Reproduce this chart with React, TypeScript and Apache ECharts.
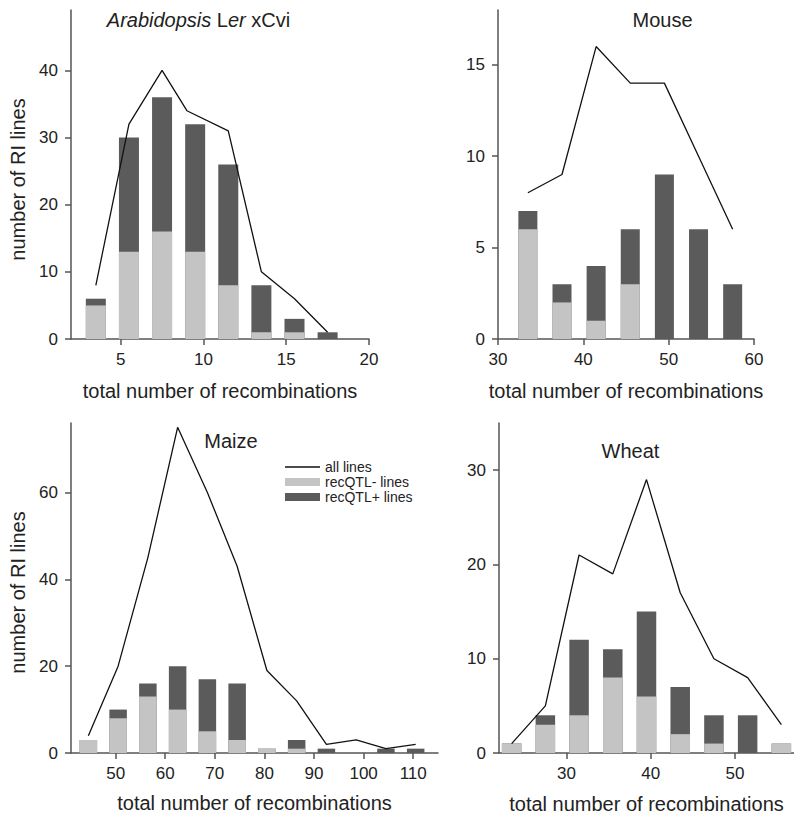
import React, { useEffect, useRef } from "react";
import * as echarts from "echarts";

// ---- Data ----
const arabBins = [3.5, 5.5, 7.5, 9.5, 11.5, 13.5, 15.5, 17.5];
const arabMinus = [5, 13, 16, 13, 8, 1, 1, 0];
const arabPlus = [1, 17, 20, 19, 18, 7, 2, 1];
const arabLineX = [3.5, 5.5, 7.5, 9, 11.5, 13.5, 15.5, 17.5];
const arabAll = [8, 32, 40, 34, 31, 10, 6, 1];

const mouseBins = [33.5, 37.5, 41.5, 45.5, 49.5, 53.5, 57.5];
const mouseMinus = [6, 2, 1, 3, 0, 0, 0];
const mousePlus = [1, 1, 3, 3, 9, 6, 3];
const mouseLineX = [33.5, 37.5, 41.5, 45.5, 49.5, 53.5, 57.5];
const mouseAll = [8, 9, 16, 14, 14, 10, 6];

const maizeBins = [44.5, 50.5, 56.5, 62.5, 68.5, 74.5, 80.5, 86.5, 92.5, 98.5, 104.5, 110.5];
const maizeMinus = [3, 8, 13, 10, 5, 3, 1, 1, 0, 0, 0, 0];
const maizePlus = [0, 2, 3, 10, 12, 13, 0, 2, 1, 0, 1, 1];
const maizeLineX = [44.5, 50.5, 56.5, 62.5, 68.5, 74.5, 80.5, 86.5, 92.5, 98.5, 104.5, 110.5];
const maizeAll = [4, 20, 45, 75, 60, 43, 19, 12, 2, 3, 1, 2];

const wheatBins = [23.5, 27.5, 31.5, 35.5, 39.5, 43.5, 47.5, 51.5, 55.5];
const wheatMinus = [1, 3, 4, 8, 6, 2, 1, 0, 1];
const wheatPlus = [0, 1, 8, 3, 9, 5, 3, 4, 0];
const wheatLineX = [23.5, 27.5, 31.5, 35.5, 39.5, 43.5, 47.5, 51.5, 55.5];
const wheatAll = [1, 5, 21, 19, 29, 17, 10, 8, 3];

const arabXTicks = [5, 10, 15, 20];
const arabYTicks = [0, 10, 20, 30, 40];
const mouseXTicks = [30, 40, 50, 60];
const mouseYTicks = [0, 5, 10, 15];
const maizeXTicks = [50, 60, 70, 80, 90, 100, 110];
const maizeYTicks = [0, 20, 40, 60];
const wheatXTicks = [30, 40, 50];
const wheatYTicks = [0, 10, 20, 30];

const X_TITLE = "total number of recombinations";
const Y_TITLE = "number of RI lines";
const LEG_ALL = "all lines";
const LEG_MINUS = "recQTL- lines";
const LEG_PLUS = "recQTL+ lines";

const FONT = "'Liberation Sans', Arial, Helvetica, sans-serif";
const AXIS_COLOR = "#555";
const TEXT_COLOR = "#222";
const LIGHT = "#c4c4c4";
const DARK = "#5b5b5b";

function xAx(gi: number, min: number, max: number, ticks: number[], gap: number) {
  return {
    type: "value",
    gridIndex: gi,
    min,
    max,
    axisLine: { show: true, onZero: false, lineStyle: { color: AXIS_COLOR, width: 1.5 } },
    axisTick: { show: true, length: 6, lineStyle: { color: AXIS_COLOR, width: 1.5 }, customValues: ticks },
    axisLabel: { customValues: ticks, fontSize: 17, color: TEXT_COLOR, margin: 12, fontFamily: FONT },
    splitLine: { show: false },
    name: X_TITLE,
    nameLocation: "middle",
    nameGap: gap,
    nameTextStyle: { fontSize: 20, color: TEXT_COLOR, fontFamily: FONT },
  };
}

function yAx(gi: number, max: number, ticks: number[]) {
  return {
    type: "value",
    gridIndex: gi,
    min: 0,
    max,
    axisLine: { show: true, onZero: false, lineStyle: { color: AXIS_COLOR, width: 1.5 } },
    axisTick: { show: true, length: 6, lineStyle: { color: AXIS_COLOR, width: 1.5 }, customValues: ticks },
    axisLabel: { customValues: ticks, fontSize: 17, color: TEXT_COLOR, margin: 13, fontFamily: FONT },
    splitLine: { show: false },
  };
}

function panelSeries(
  i: number,
  bins: number[],
  minus: number[],
  plus: number[],
  lineX: number[],
  all: number[],
  barWidth: number
) {
  return [
    {
      // recQTL+ drawn as the full stacked height (minus + plus) behind
      type: "bar",
      name: LEG_PLUS,
      xAxisIndex: i,
      yAxisIndex: i,
      barWidth,
      barGap: "-100%",
      data: bins.map((b, k) => [b, minus[k] + plus[k]]),
      itemStyle: { color: DARK },
      z: 2,
    },
    {
      type: "bar",
      name: LEG_MINUS,
      xAxisIndex: i,
      yAxisIndex: i,
      barWidth,
      barGap: "-100%",
      data: bins.map((b, k) => [b, minus[k]]),
      itemStyle: { color: LIGHT },
      z: 3,
    },
    {
      type: "line",
      name: LEG_ALL,
      xAxisIndex: i,
      yAxisIndex: i,
      symbol: "none",
      data: lineX.map((x, k) => [x, all[k]]),
      lineStyle: { color: "#111", width: 1.3 },
      itemStyle: { color: "#111" },
      z: 5,
    },
  ];
}

export default function App() {
  const ref = useRef<HTMLDivElement>(null);
  useEffect(() => {
    document.body.style.margin = "0";
    if (!ref.current) return;
    const chart = echarts.init(ref.current, null, { renderer: "svg" });
    const titleStyle = { font: `20px ${FONT}`, fill: TEXT_COLOR, align: "center", verticalAlign: "middle" };
    chart.setOption({
      animation: false,
      backgroundColor: "#fff",
      textStyle: { fontFamily: FONT },
      grid: [
        { left: 71, top: 10, width: 298, height: 329 },
        { left: 498, top: 10, width: 256, height: 329 },
        { left: 71, top: 423, width: 367, height: 330 },
        { left: 499, top: 423, width: 295, height: 331 },
      ],
      xAxis: [
        xAx(0, 2, 20, arabXTicks, 42),
        xAx(1, 30, 60, mouseXTicks, 42),
        xAx(2, 41, 115, maizeXTicks, 40),
        xAx(3, 22, 57, wheatXTicks, 41),
      ],
      yAxis: [
        yAx(0, 49, arabYTicks),
        yAx(1, 18, mouseYTicks),
        yAx(2, 76, maizeYTicks),
        yAx(3, 35, wheatYTicks),
      ],
      legend: {
        data: [
          { name: LEG_ALL, icon: "path://M0,0H35V1.3H0Z", itemStyle: { color: "#111" } },
          { name: LEG_MINUS, icon: "rect" },
          { name: LEG_PLUS, icon: "rect" },
        ],
        orient: "vertical",
        left: 285,
        top: 459.5,
        itemWidth: 35,
        itemHeight: 8,
        itemGap: 0,
        padding: 0,
        selectedMode: false,
        textStyle: { fontSize: 14, color: TEXT_COLOR, fontFamily: FONT, lineHeight: 15 },
      },
      series: [
        ...panelSeries(0, arabBins, arabMinus, arabPlus, arabLineX, arabAll, 20),
        ...panelSeries(1, mouseBins, mouseMinus, mousePlus, mouseLineX, mouseAll, 19),
        ...panelSeries(2, maizeBins, maizeMinus, maizePlus, maizeLineX, maizeAll, 17.5),
        ...panelSeries(3, wheatBins, wheatMinus, wheatPlus, wheatLineX, wheatAll, 19.5),
      ],
      graphic: [
        {
          type: "text",
          x: 198.5,
          y: 20,
          style: {
            text: "{i|Arabidopsis} L{i|er} xCvi",
            ...titleStyle,
            rich: { i: { fontStyle: "italic", fontSize: 20, fontFamily: FONT, fill: TEXT_COLOR } },
          },
        },
        { type: "text", x: 662.5, y: 20, style: { text: "Mouse", ...titleStyle } },
        { type: "text", x: 231, y: 440.5, style: { text: "Maize", ...titleStyle } },
        { type: "text", x: 630.5, y: 450.5, style: { text: "Wheat", ...titleStyle } },
        { type: "text", x: 17.5, y: 179.5, rotation: Math.PI / 2, style: { text: Y_TITLE, ...titleStyle } },
        { type: "text", x: 18, y: 592.5, rotation: Math.PI / 2, style: { text: Y_TITLE, ...titleStyle } },
      ],
    });
    return () => chart.dispose();
  }, []);
  return <div ref={ref} style={{ width: 794, height: 815 }} />;
}
